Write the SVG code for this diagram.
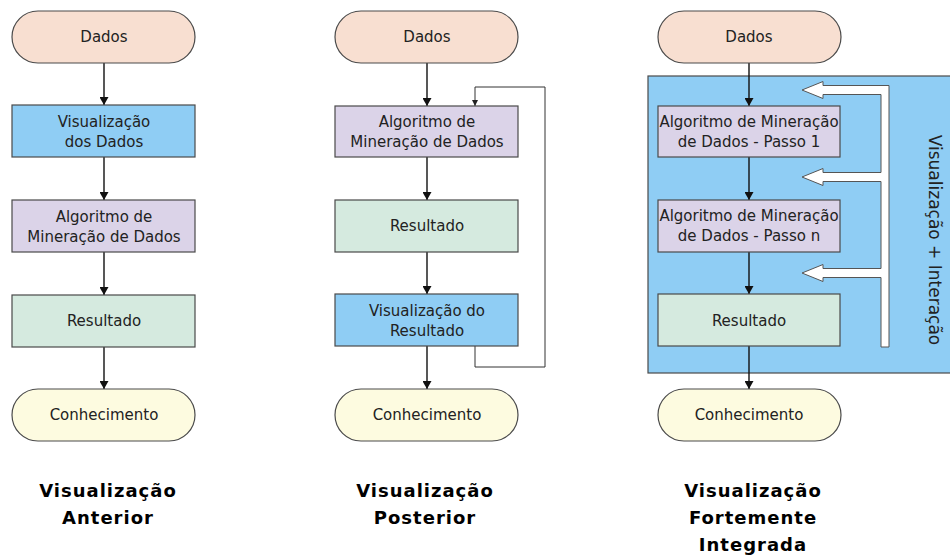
<svg xmlns="http://www.w3.org/2000/svg" width="950" height="558" viewBox="0 0 950 558">
<defs>
<style>
.n{stroke:#4a4a4a;stroke-width:1.2}
.peach{fill:#f8dfd1}
.blue{fill:#8fcdf4}
.lav{fill:#dbd3e8}
.mint{fill:#d5eadf}
.cream{fill:#fdfbe0}
.t{font-family:"DejaVu Sans",Verdana,sans-serif;font-size:15px;fill:#222;text-anchor:middle}
.h{font-family:"DejaVu Sans",Verdana,sans-serif;font-size:18px;font-weight:bold;fill:#000;text-anchor:middle;letter-spacing:1px}
.c{stroke:#111;stroke-width:1.4;fill:none}
.fb{stroke:#333;stroke-width:1;fill:none}
</style>
<marker id="ah" viewBox="0 0 8 9" refX="8" refY="4.5" markerWidth="8" markerHeight="9" markerUnits="userSpaceOnUse" orient="auto">
<path d="M0,0 L8,4.5 L0,9 Z" fill="#111"/>
</marker>
<marker id="ahs" viewBox="0 0 6 6" refX="6" refY="3" markerWidth="6" markerHeight="6" markerUnits="userSpaceOnUse" orient="auto">
<path d="M0,0 L6,3 L0,6 Z" fill="#222"/>
</marker>
</defs>
<rect width="950" height="558" fill="#fff"/>

<g id="bg3">
<rect x="648" y="76" width="310" height="297" class="blue n"/>
</g>

<g id="connectors">
<line x1="104" y1="63" x2="104" y2="105" class="c" marker-end="url(#ah)"/>
<line x1="104" y1="157" x2="104" y2="200" class="c" marker-end="url(#ah)"/>
<line x1="104" y1="252" x2="104" y2="295" class="c" marker-end="url(#ah)"/>
<line x1="104" y1="347" x2="104" y2="389" class="c" marker-end="url(#ah)"/>

<line x1="427" y1="63" x2="427" y2="106" class="c" marker-end="url(#ah)"/>
<line x1="427" y1="157" x2="427" y2="200" class="c" marker-end="url(#ah)"/>
<line x1="427" y1="252" x2="427" y2="294" class="c" marker-end="url(#ah)"/>
<line x1="427" y1="346" x2="427" y2="389" class="c" marker-end="url(#ah)"/>
<path d="M475,346 L475,367 L545,367 L545,87 L475,87 L475,106" class="fb" marker-end="url(#ahs)"/>

<line x1="749" y1="63" x2="749" y2="106" class="c" marker-end="url(#ah)"/>
<line x1="749" y1="157" x2="749" y2="200" class="c" marker-end="url(#ah)"/>
<line x1="749" y1="252" x2="749" y2="294" class="c" marker-end="url(#ah)"/>
<line x1="749" y1="346" x2="749" y2="389" class="c" marker-end="url(#ah)"/>
<path d="M802,90 L823,81.5 L823,85.5 L889,85.5 L889,347 L881,347 L881,277.5 L823,277.5 L823,281.5 L802,273 L823,264.5 L823,268.5 L881,268.5 L881,181.5 L823,181.5 L823,185.5 L802,177 L823,168.5 L823,172.5 L881,172.5 L881,94.5 L823,94.5 L823,98.5 Z" fill="#fff" stroke="#555" stroke-width="1"/>
</g>

<g id="c1-dados"><rect x="12" y="11" width="183" height="52" rx="26" class="peach n"/><text x="104" y="42" class="t">Dados</text></g>
<g id="c1-vis"><rect x="12" y="105" width="183" height="52" class="blue n"/><text x="104" y="127" class="t">Visualização</text><text x="104" y="147" class="t">dos Dados</text></g>
<g id="c1-alg"><rect x="12" y="200" width="183" height="52" class="lav n"/><text x="104" y="222" class="t">Algoritmo de</text><text x="104" y="242" class="t">Mineração de Dados</text></g>
<g id="c1-res"><rect x="12" y="295" width="183" height="52" class="mint n"/><text x="104" y="326" class="t">Resultado</text></g>
<g id="c1-con"><rect x="12" y="389" width="183" height="52" rx="26" class="cream n"/><text x="104" y="420" class="t">Conhecimento</text></g>

<g id="c2-dados"><rect x="335" y="11" width="183" height="52" rx="26" class="peach n"/><text x="427" y="42" class="t">Dados</text></g>
<g id="c2-alg"><rect x="335" y="106" width="183" height="51" class="lav n"/><text x="427" y="127" class="t">Algoritmo de</text><text x="427" y="147" class="t">Mineração de Dados</text></g>
<g id="c2-res"><rect x="335" y="200" width="183" height="52" class="mint n"/><text x="427" y="231" class="t">Resultado</text></g>
<g id="c2-vis"><rect x="335" y="294" width="183" height="52" class="blue n"/><text x="427" y="316" class="t">Visualização do</text><text x="427" y="336" class="t">Resultado</text></g>
<g id="c2-con"><rect x="335" y="389" width="183" height="52" rx="26" class="cream n"/><text x="427" y="420" class="t">Conhecimento</text></g>

<g id="c3-dados"><rect x="658" y="11" width="183" height="52" rx="26" class="peach n"/><text x="749" y="42" class="t">Dados</text></g>
<g id="c3-p1"><rect x="658" y="106" width="182" height="51" class="lav n"/><text x="749" y="127" class="t">Algoritmo de Mineração</text><text x="749" y="147" class="t">de Dados - Passo 1</text></g>
<g id="c3-pn"><rect x="658" y="200" width="182" height="52" class="lav n"/><text x="749" y="221" class="t">Algoritmo de Mineração</text><text x="749" y="241" class="t">de Dados - Passo n</text></g>
<g id="c3-res"><rect x="658" y="294" width="182" height="52" class="mint n"/><text x="749" y="326" class="t">Resultado</text></g>
<g id="c3-con"><rect x="658" y="389" width="183" height="52" rx="26" class="cream n"/><text x="749" y="420" class="t">Conhecimento</text></g>

<g id="c3-label"><text transform="translate(929,240) rotate(90)" font-family="DejaVu Sans,Verdana,sans-serif" font-size="17" fill="#222" text-anchor="middle">Visualização + Interação</text></g>

<g id="titles">
<text x="108" y="497" class="h">Visualização</text>
<text x="108" y="524" class="h">Anterior</text>
<text x="425" y="497" class="h">Visualização</text>
<text x="425" y="524" class="h">Posterior</text>
<text x="753" y="497" class="h">Visualização</text>
<text x="753" y="524" class="h">Fortemente</text>
<text x="753" y="551" class="h">Integrada</text>
</g>
</svg>
